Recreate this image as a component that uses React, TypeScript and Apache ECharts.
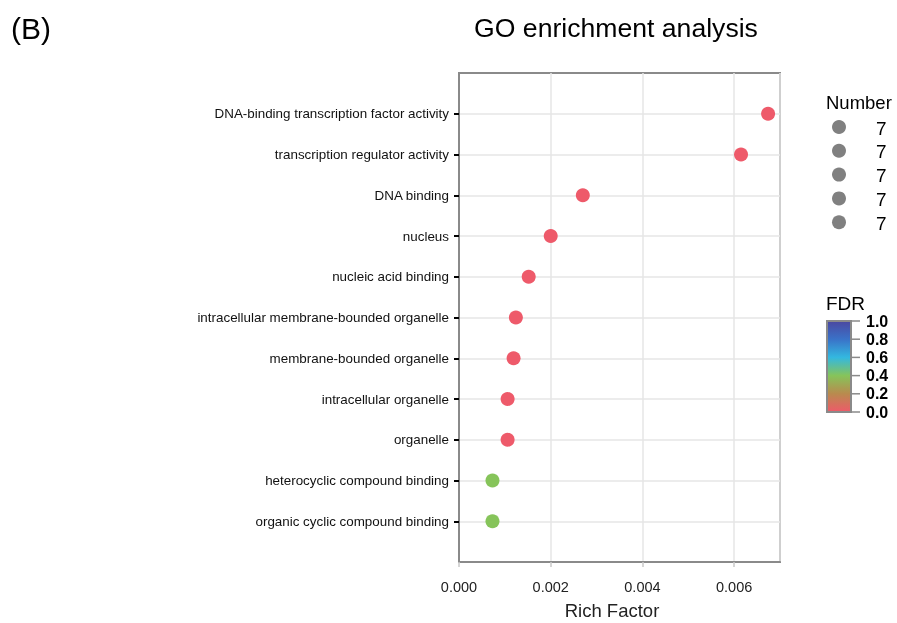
import React, { useEffect, useRef } from "react";
import * as echarts from "echarts";

// Categories from top to bottom
const terms = [
  "DNA-binding transcription factor activity",
  "transcription regulator activity",
  "DNA binding",
  "nucleus",
  "nucleic acid binding",
  "intracellular membrane-bounded organelle",
  "membrane-bounded organelle",
  "intracellular organelle",
  "organelle",
  "heterocyclic compound binding",
  "organic cyclic compound binding",
];
const richFactor = [0.00674, 0.00615, 0.0027, 0.002, 0.00152, 0.00124, 0.00119, 0.00106, 0.00106, 0.00073, 0.00073];
const fdr = [0.0, 0.0, 0.0, 0.0, 0.0, 0.0, 0.0, 0.0, 0.0, 0.4, 0.4];
const numbers = [7, 7, 7, 7, 7];
const xTicks = [0, 0.002, 0.004, 0.006];
const fdrTicks = [0.0, 0.2, 0.4, 0.6, 0.8, 1.0];

const FONT = "'Liberation Sans', Arial, Helvetica, sans-serif";

export default function App() {
  const ref = useRef<HTMLDivElement>(null);
  useEffect(() => {
    if (!ref.current) return;
    const chart = echarts.init(ref.current, undefined, { renderer: "svg" });
    const cats = ["", ...terms.slice().reverse(), ""];
    const data = terms.map((t, i) => [richFactor[i], t, fdr[i]]);

    const graphics: any[] = [];
    graphics.push({ type: "text", x: 11, y: 28, style: { text: "(B)", font: `30px ${FONT}`, fill: "#000", verticalAlign: "middle" } });
    graphics.push({ type: "text", x: 616, y: 28, style: { text: "GO enrichment analysis", font: `26.6px ${FONT}`, fill: "#000", align: "center", verticalAlign: "middle" } });
    graphics.push({ type: "text", x: 612, y: 610, style: { text: "Rich Factor", font: `18.5px ${FONT}`, fill: "#222", align: "center", verticalAlign: "middle" } });
    // Number legend
    graphics.push({ type: "text", x: 826, y: 102, style: { text: "Number", font: `18.5px ${FONT}`, fill: "#000", verticalAlign: "middle" } });
    numbers.forEach((n, i) => {
      const y = 127 + i * 23.8;
      graphics.push({ type: "circle", shape: { cx: 839, cy: y, r: 7 }, style: { fill: "#808080" } });
      graphics.push({ type: "text", x: 876, y: y + 1, style: { text: String(n), font: `19px ${FONT}`, fill: "#000", verticalAlign: "middle" } });
    });
    // FDR colorbar
    const barTop = 321, barH = 91, barX = 827, barW = 24;
    graphics.push({ type: "text", x: 826, y: 303, style: { text: "FDR", font: `19px ${FONT}`, fill: "#000", verticalAlign: "middle" } });
    graphics.push({
      type: "rect",
      shape: { x: barX, y: barTop, width: barW, height: barH },
      style: {
        fill: new echarts.graphic.LinearGradient(0, 0, 0, 1, [
          { offset: 0, color: "#4B48A0" },
          { offset: 0.2, color: "#3A72C8" },
          { offset: 0.4, color: "#33B8E0" },
          { offset: 0.6, color: "#86C45A" },
          { offset: 0.8, color: "#B98A4E" },
          { offset: 1, color: "#EE5A6A" },
        ]),
        stroke: "#8a8a8a",
        lineWidth: 2,
      },
    });
    fdrTicks.forEach((v) => {
      const y = barTop + (1 - v) * barH;
      graphics.push({ type: "line", shape: { x1: barX + barW, y1: y, x2: barX + barW + 9, y2: y }, style: { stroke: "#8a8a8a", lineWidth: 1.5 } });
      graphics.push({ type: "text", x: 866, y: y, style: { text: v.toFixed(1), font: `bold 16px ${FONT}`, fill: "#000", verticalAlign: "middle" } });
    });

    chart.setOption({
      animation: false,
      grid: { left: 459, top: 73, right: 117, bottom: 61, show: true, borderColor: "#8a8a8a", borderWidth: 2, backgroundColor: "transparent" },
      xAxis: {
        type: "value",
        min: 0,
        max: 0.007,
        interval: 0.002,
        axisLine: { show: true, lineStyle: { color: "#8a8a8a", width: 2 } },
        axisTick: { show: true, length: 5, lineStyle: { color: "#c8c8c8", width: 1.5 } },
        axisLabel: {
          fontFamily: FONT, fontSize: 14.5, color: "#222", margin: 17, showMaxLabel: false,
          formatter: (v: number) => (xTicks.some((t) => Math.abs(t - v) < 1e-9) ? v.toFixed(3) : ""),
        },
        splitLine: { show: true, lineStyle: { color: "#e6e6e6", width: 1.5 } },
      },
      yAxis: {
        type: "category",
        data: cats,
        boundaryGap: false,
        axisLine: { show: true, lineStyle: { color: "#8a8a8a", width: 2 } },
        axisTick: { show: true, length: 5, interval: (i: number, v: string) => v !== "", lineStyle: { color: "#000", width: 2 } },
        axisLabel: { fontFamily: FONT, fontSize: 13.4, color: "#111", margin: 10, interval: 0 },
        splitLine: { show: true, interval: (i: number, v: string) => v !== "", lineStyle: { color: "#e6e6e6", width: 1.5 } },
      },
      visualMap: {
        show: false,
        type: "continuous",
        min: 0,
        max: 1,
        dimension: 2,
        seriesIndex: 0,
        inRange: { color: ["#EE5A6A", "#B98A4E", "#86C45A", "#33B8E0", "#3A72C8", "#4B48A0"] },
      },
      series: [
        {
          type: "scatter",
          symbolSize: 14,
          data,
          itemStyle: { opacity: 1 },
        },
      ],
      graphic: graphics,
    });
    return () => chart.dispose();
  }, []);
  return <div ref={ref} style={{ position: "fixed", left: 0, top: 0, width: 897, height: 623 }} />;
}
